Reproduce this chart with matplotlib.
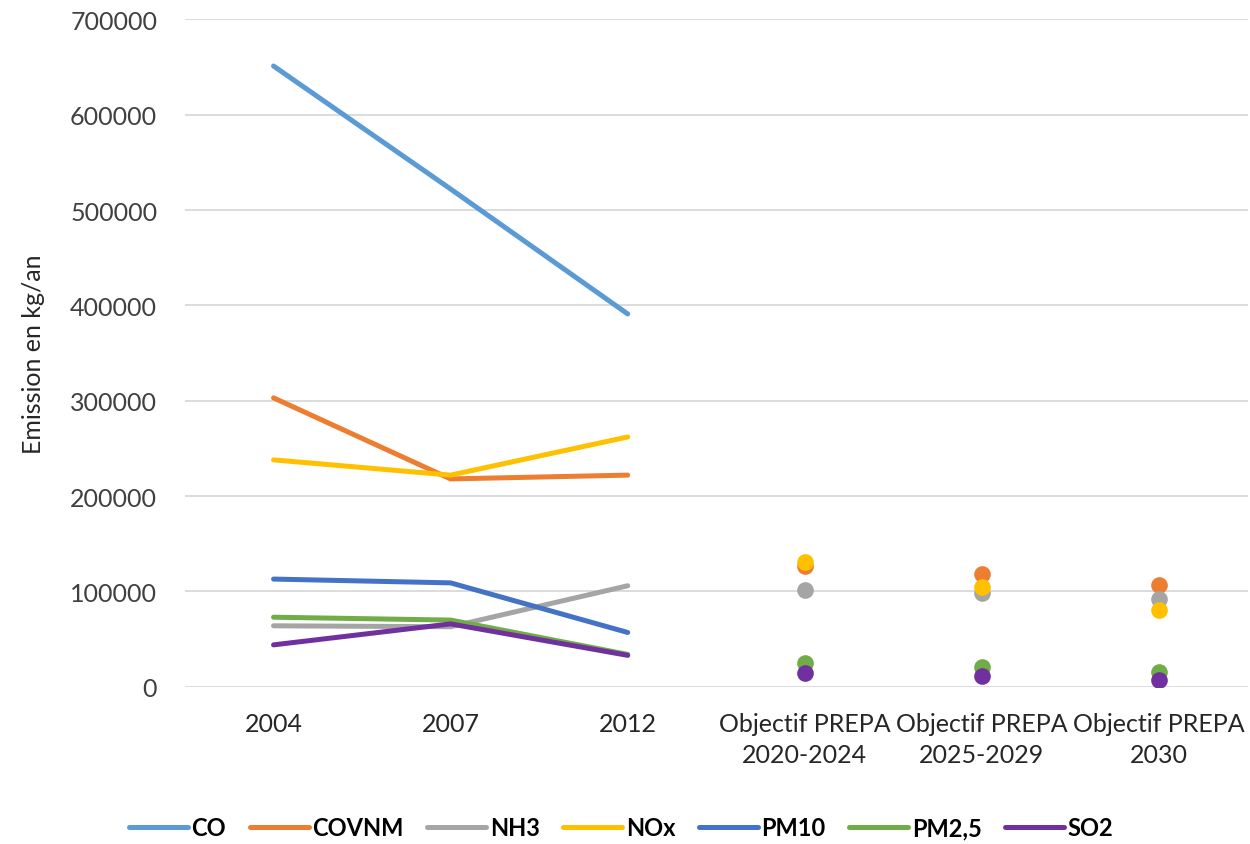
import numpy as np
import matplotlib
matplotlib.use("Agg")
import matplotlib.pyplot as plt

plt.rcParams['font.family'] = ['Lato', 'DejaVu Sans']

categories = ["2004", "2007", "2012",
              "Objectif PREPA\n2020-2024", "Objectif PREPA\n2025-2029", "Objectif PREPA\n2030"]
n_hist = 3  # first three categories are measured years, the rest are targets

series_names = ["CO", "COVNM", "NH3", "NOx", "PM10", "PM2,5", "SO2"]
co = [651000, 522000, 391000, None, None, None]
covnm = [303000, 218000, 222000, 127000, 118000, 107000]
nh3 = [64000, 63000, 106000, 102000, 98000, 92000]
nox = [238000, 222000, 262000, 131000, 105000, 81000]
pm10 = [113000, 109000, 57000, None, None, None]
pm25 = [73000, 70000, 34000, 25000, 21000, 16000]
so2 = [44000, 66000, 33000, 15000, 11000, 7000]

colors = ["#5B9BD5", "#ED7D31", "#A5A5A5", "#FFC000", "#4472C4", "#70AD47", "#7030A0"]
series_values = [co, covnm, nh3, nox, pm10, pm25, so2]

fig = plt.figure(figsize=(12.5, 8.45), dpi=100)
ax = fig.add_axes([0.148, 0.186, 0.850, 0.790])

x = np.arange(len(categories))
for name, vals, col in zip(series_names, series_values, colors):
    hist = np.array([np.nan if v is None else v for v in vals[:n_hist]], dtype=float)
    ax.plot(x[:n_hist], hist, color=col, lw=3.6, solid_capstyle='round', label=name, zorder=3)
for name, vals, col in zip(series_names, series_values, colors):
    tgt = np.array([np.nan if v is None else v for v in vals[n_hist:]], dtype=float)
    ax.plot(x[n_hist:], tgt, linestyle='none', marker='o', markersize=12,
            color=col, markeredgewidth=0, zorder=4)

ax.set_xlim(-0.5, len(categories) - 0.5)
ax.set_ylim(0, 700000)
ax.set_yticks(np.arange(0, 700001, 100000))
ax.set_yticklabels([str(v) for v in range(0, 700001, 100000)], fontsize=18, color="#404040")
ax.set_xticks(x)
ax.set_xticklabels(categories, fontsize=18, color="#262626", linespacing=1.45)
ax.tick_params(axis='y', length=0, pad=20)
ax.tick_params(axis='x', length=0, pad=18)
ax.grid(axis='y', color="#D9D9D9", lw=1.3)
ax.set_axisbelow(True)
for s in ax.spines.values():
    s.set_visible(False)
ax.set_ylabel("Emission en kg/an", fontsize=18, color="#262626", labelpad=18)

leg = fig.legend(*ax.get_legend_handles_labels(), loc='center', bbox_to_anchor=(0.497, 0.019),
                 ncol=7, frameon=False, handlelength=2.5, columnspacing=1.0, handletextpad=0.15,
                 prop={'weight': 'bold', 'size': 17})
for t in leg.get_texts():
    t.set_color("#000000")

fig.savefig("out.png", dpi=100)
